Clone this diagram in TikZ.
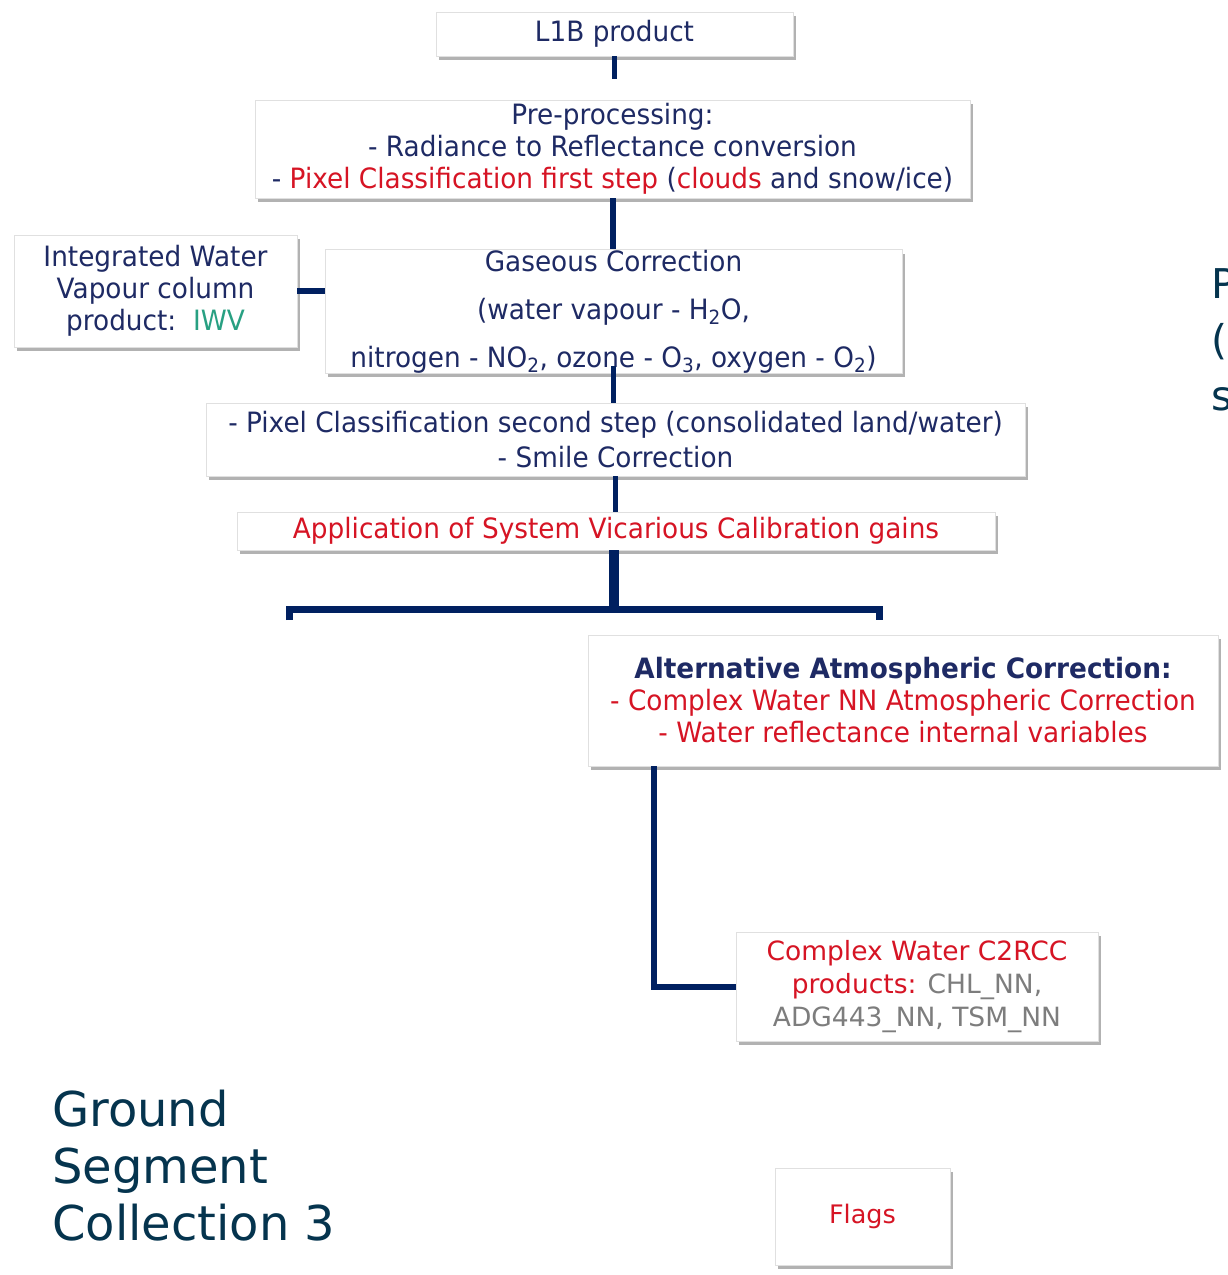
\documentclass[tikz,border=0pt]{standalone}
\usepackage{fontspec}
\setmainfont{DejaVu Sans}
\newfontfamily\boxfont{DejaVu Sans}[FakeStretch=0.94]
\usetikzlibrary{shadows}
\definecolor{navyline}{RGB}{0,32,96}
\definecolor{navytext}{RGB}{30,42,100}
\definecolor{redtext}{RGB}{214,20,36}
\definecolor{iwvteal}{RGB}{40,160,130}
\definecolor{graytext}{RGB}{125,125,125}
\definecolor{titleblue}{RGB}{5,52,78}

\begin{document}
\begin{tikzpicture}[x=1pt,y=-1pt,
  box/.style={draw=black!12,line width=.8pt,fill=white,inner sep=0pt,align=center,
    text=navytext,font=\boxfont\fontsize{28}{32}\selectfont,
    drop shadow={shadow xshift=3pt,shadow yshift=-4pt,fill=black,opacity=.3}},
  link/.style={navyline,line width=5pt}]
	\useasboundingbox (0,0) rectangle (1227,1275);

	% processing chain
	\node[box,minimum width=357,minimum height=44] (l1b) at (614.5,34) {L1B product};
	\node[box,minimum width=715,minimum height=98] (pre) at (612.5,149) {Pre-processing:\\- Radiance to Reflectance conversion\\- {\color{redtext}Pixel Classification first step} ({\color{redtext}clouds} and snow/ice)};
	\node[box,minimum width=283,minimum height=112] (iwv) at (155.5,291) {Integrated Water\\Vapour column\\product:~~{\color{iwvteal}IWV}};
	\node[box,minimum width=577,minimum height=123,font=\boxfont\fontsize{28}{48}\selectfont] (gas) at (613.5,311.5) {Gaseous Correction\\(water vapour - H\textsubscript{2}O,\\nitrogen - NO\textsubscript{2}, ozone - O\textsubscript{3}, oxygen - O\textsubscript{2})};
	\node[box,minimum width=819,minimum height=73,font=\boxfont\fontsize{28}{35}\selectfont] (pix) at (615.5,439.5) {- Pixel Classification second step (consolidated land/water)\\- Smile Correction};
	\node[box,minimum width=758,minimum height=38,text=redtext] (svc) at (616,531) {Application of System Vicarious Calibration gains};
	\node[box,minimum width=630,minimum height=131] (alt) at (903,700.5) {{\bfseries Alternative Atmospheric Correction:}\\{\color{redtext}- Complex Water NN Atmospheric Correction}\\{\color{redtext}- Water reflectance internal variables}};
	\node[box,minimum width=362,minimum height=109,text=redtext,font=\fontsize{26.5}{33}\selectfont] (c2rcc) at (917,986.5) {Complex Water C2RCC\\products: {\color{graytext}CHL\_NN,}\\{\color{graytext}ADG443\_NN, TSM\_NN}};
	\node[box,minimum width=175,minimum height=97,text=redtext,font=\fontsize{25.5}{30}\selectfont] (flags) at (862.5,1216.5) {Flags};

	\draw[link,shorten >=21pt] (l1b.south) -- (l1b.south |- pre.north);
	\draw[link,line width=6pt] (pre.south) -- (pre.south |- gas.north);
	\draw[link,line width=6pt] (iwv.east) -- (iwv.east -| gas.west);
	\draw[link] ([yshift=8pt]gas.south) -- (gas.south |- pix.north);
	\draw[link] (pix.south) -- (pix.south |- svc.north);

	% split
	\coordinate (fork) at (614,609);
	\coordinate (forkL) at (289,609);
	\coordinate (forkR) at (879,609);
	\draw[link,line width=10pt] (svc.south -| fork) -- (fork);
	\draw[link,line width=7pt] ([yshift=-11pt]forkL) -- (forkL) -- (forkR) -- ([yshift=-11pt]forkR);
	\draw[link,line width=6pt] ([xshift=-249pt]alt.south) |- (c2rcc.west);

	\node[anchor=north west,align=left,inner sep=0pt,text=titleblue,font=\fontsize{48}{57}\selectfont] (title) at (52,1090) {Ground\\Segment\\Collection 3};
	\node[anchor=north west,align=left,inner sep=0pt,text=titleblue,font=\fontsize{41}{56}\selectfont] (side) at (1211,268) {P\\(\\s};
\end{tikzpicture}
\end{document}
